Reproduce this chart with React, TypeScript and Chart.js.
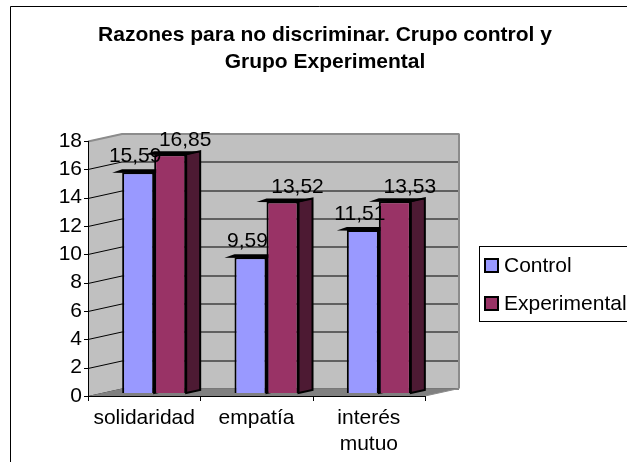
import React, { useEffect, useRef } from "react";
import { Chart, registerables } from "chart.js";

Chart.register(...registerables);

const categories: (string | string[])[] = ["solidaridad", "empatía", ["interés", "mutuo"]];
const seriesNames = ["Control", "Experimental"];
const controlValues = [15.59, 9.59, 11.51];
const experimentalValues = [16.85, 13.52, 13.53];
const yTickValues = [0, 2, 4, 6, 8, 10, 12, 14, 16, 18];
const titleLines = ["Razones para no discriminar. Crupo control y", "Grupo Experimental"];

const FONT = "'Liberation Sans', Arial, sans-serif";
const FS = 21;
const COLORS = ["#9999FF", "#993366"];
const SIDE_COLORS = ["#4d4d80", "#4d1a33"];

// 3D geometry
const WALL_DX = 34;
const WALL_DY = -7.5;
const BAR_DX = 10;
const BAR_DY = -3;
const DEPTH_DX = 14;
const DEPTH_DY = -3;

const fmt = (v: number) => v.toFixed(2).replace(".", ",");

const threeD = {
  id: "threeD",
  beforeDatasetsDraw(chart: any) {
    const ctx = chart.ctx as CanvasRenderingContext2D;
    const ya = chart.scales.y;
    const area = chart.chartArea;
    const L = area.left, R = area.right, B = area.bottom;
    const yTop = ya.getPixelForValue(18);
    ctx.save();
    // back wall
    ctx.fillStyle = "#c0c0c0";
    ctx.fillRect(L + WALL_DX, yTop + WALL_DY, R - L, B - yTop);
    // left wall
    ctx.beginPath();
    ctx.moveTo(L, yTop);
    ctx.lineTo(L + WALL_DX, yTop + WALL_DY);
    ctx.lineTo(L + WALL_DX, B + WALL_DY);
    ctx.lineTo(L, B);
    ctx.closePath();
    ctx.fill();
    // gridlines
    for (const v of yTickValues) {
      const y = Math.round(ya.getPixelForValue(v)) + 0.5;
      ctx.strokeStyle = v === 18 ? "#8c8c8c" : "#000";
      ctx.lineWidth = v === 18 ? 2 : 1;
      ctx.beginPath();
      ctx.moveTo(L, y);
      ctx.lineTo(L + WALL_DX, y + WALL_DY);
      ctx.lineTo(R + WALL_DX, y + WALL_DY);
      ctx.stroke();
    }
    // right edge of back wall
    ctx.strokeStyle = "#8c8c8c";
    ctx.lineWidth = 2;
    ctx.beginPath();
    ctx.moveTo(R + WALL_DX, yTop + WALL_DY);
    ctx.lineTo(R + WALL_DX, B + WALL_DY);
    ctx.stroke();
    // floor
    ctx.fillStyle = "#808080";
    ctx.beginPath();
    ctx.moveTo(L, B);
    ctx.lineTo(R, B);
    ctx.lineTo(R + WALL_DX, B + WALL_DY);
    ctx.lineTo(L + WALL_DX, B + WALL_DY);
    ctx.closePath();
    ctx.fill();
    ctx.strokeStyle = "#8c8c8c";
    ctx.lineWidth = 1;
    ctx.beginPath();
    ctx.moveTo(R, B);
    ctx.lineTo(R + WALL_DX, B + WALL_DY);
    ctx.stroke();

    // bar sides and tops (beneath the fronts)
    ctx.translate(BAR_DX, BAR_DY);
    chart.data.datasets.forEach((ds: any, di: number) => {
      const meta = chart.getDatasetMeta(di);
      meta.data.forEach((bar: any) => {
        const p = bar.getProps(["x", "y", "base", "width"], true);
        const l = p.x - p.width / 2;
        const r = p.x + p.width / 2;
        const t = p.y;
        const b = p.base;
        ctx.fillStyle = SIDE_COLORS[di];
        ctx.strokeStyle = "#000";
        ctx.lineWidth = 2;
        ctx.beginPath();
        ctx.moveTo(r, t);
        ctx.lineTo(r + DEPTH_DX, t + DEPTH_DY);
        ctx.lineTo(r + DEPTH_DX, b + DEPTH_DY);
        ctx.lineTo(r, b);
        ctx.closePath();
        ctx.fill();
        ctx.stroke();
        ctx.fillStyle = "#000";
        ctx.beginPath();
        ctx.moveTo(l - 10, t + 0.5);
        ctx.lineTo(l, t + DEPTH_DY);
        ctx.lineTo(r + DEPTH_DX, t + DEPTH_DY);
        ctx.lineTo(r, t + 1);
        ctx.closePath();
        ctx.fill();
      });
    });
    ctx.restore();
    ctx.save();
    ctx.translate(BAR_DX, BAR_DY);
  },
  afterDatasetsDraw(chart: any) {
    const ctx = chart.ctx as CanvasRenderingContext2D;
    ctx.restore();
    const ya = chart.scales.y;
    const area = chart.chartArea;
    const L = area.left, R = area.right, B = area.bottom;
    const yTop = ya.getPixelForValue(18);
    ctx.save();
    ctx.strokeStyle = "#000";
    ctx.lineWidth = 1;
    ctx.beginPath();
    ctx.moveTo(L + 0.5, yTop);
    ctx.lineTo(L + 0.5, B + 0.5);
    ctx.lineTo(R, B + 0.5);
    ctx.stroke();
    for (const v of yTickValues) {
      const y = Math.round(ya.getPixelForValue(v)) + 0.5;
      ctx.beginPath();
      ctx.moveTo(L - 4, y);
      ctx.lineTo(L, y);
      ctx.stroke();
    }
    const n = categories.length;
    for (let i = 0; i <= n; i++) {
      const x = Math.round(L + ((R - L) * i) / n) + 0.5;
      ctx.beginPath();
      ctx.moveTo(x, B);
      ctx.lineTo(x, B + 5);
      ctx.stroke();
    }

    // data labels
    ctx.fillStyle = "#000";
    ctx.font = `${FS}px ${FONT}`;
    ctx.textAlign = "center";
    ctx.textBaseline = "middle";
    chart.data.datasets.forEach((ds: any, di: number) => {
      const meta = chart.getDatasetMeta(di);
      meta.data.forEach((bar: any, i: number) => {
        const p = bar.getProps(["x", "y"], true);
        const ox = di === 0 ? -3 : 15;
        const oy = di === 0 ? -16 : -14;
        ctx.fillText(fmt(ds.data[i]), p.x + BAR_DX + ox, p.y + BAR_DY + oy);
      });
    });

    // title
    ctx.font = `bold ${FS}px ${FONT}`;
    ctx.fillText(titleLines[0], 325, 35);
    ctx.fillText(titleLines[1], 325, 62);

    // legend
    ctx.fillStyle = "#fff";
    ctx.fillRect(479.5, 246.5, 160, 75);
    ctx.strokeStyle = "#000";
    ctx.lineWidth = 1;
    ctx.strokeRect(479.5, 246.5, 160, 75);
    ctx.font = `${FS}px ${FONT}`;
    ctx.textAlign = "left";
    const legendY = [265, 303];
    seriesNames.forEach((name, i) => {
      ctx.fillStyle = COLORS[i];
      ctx.lineWidth = 2;
      ctx.fillRect(485, legendY[i] - 6, 13, 13);
      ctx.strokeRect(485, legendY[i] - 6, 13, 13);
      ctx.fillStyle = "#000";
      ctx.fillText(name, 504, legendY[i] + 1);
    });

    // frame
    ctx.lineWidth = 1;
    ctx.strokeStyle = "#000";
    ctx.beginPath();
    ctx.moveTo(10.5, 470);
    ctx.lineTo(10.5, 6.5);
    ctx.lineTo(640, 6.5);
    ctx.stroke();
    ctx.restore();
  },
};

export default function App() {
  const ref = useRef<HTMLCanvasElement>(null);
  useEffect(() => {
    document.body.style.margin = "0";
    const canvas = ref.current!;
    const chart = new Chart(canvas, {
      type: "bar",
      data: {
        labels: categories as any,
        datasets: [
          {
            label: seriesNames[0],
            data: controlValues,
            backgroundColor: COLORS[0],
            borderColor: "#000",
            borderWidth: 2,
            categoryPercentage: 0.57,
            barPercentage: 1,
          },
          {
            label: seriesNames[1],
            data: experimentalValues,
            backgroundColor: COLORS[1],
            borderColor: "#000",
            borderWidth: 2,
            categoryPercentage: 0.57,
            barPercentage: 1,
          },
        ],
      },
      options: {
        animation: false,
        responsive: false,
        devicePixelRatio: 1,
        layout: { padding: { left: 0, top: 141, right: 202, bottom: 0 } },
        plugins: { legend: { display: false }, title: { display: false }, tooltip: { enabled: false } },
        datasets: { bar: { clip: false } } as any,
        scales: {
          x: {
            grid: { display: false, drawTicks: false },
            border: { display: false },
            ticks: { color: "#000", font: { family: FONT, size: FS, lineHeight: 1.25 }, padding: 9, maxRotation: 0, autoSkip: false },
            afterFit: (s: any) => { s.height = 66; },
          },
          y: {
            min: 0,
            max: 18,
            afterBuildTicks: (s: any) => { s.ticks = yTickValues.map((v) => ({ value: v })); },
            grid: { display: false, drawTicks: false },
            border: { display: false },
            ticks: { color: "#000", font: { family: FONT, size: FS }, padding: 6 },
            afterFit: (s: any) => { s.width = 88; },
          },
        },
      },
      plugins: [threeD],
    });
    return () => chart.destroy();
  }, []);
  return <canvas ref={ref} width={627} height={462} style={{ display: "block" }} />;
}
